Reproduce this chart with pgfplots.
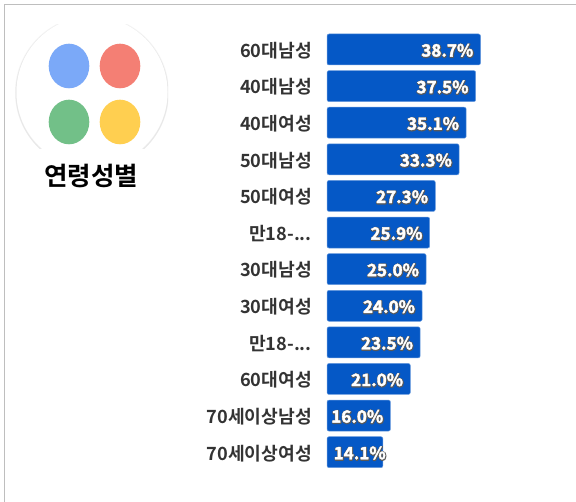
\documentclass[border=0pt]{standalone}
\usepackage{fontspec}
\usepackage{pgfplots}
\pgfplotsset{compat=1.18}
\setmainfont{Noto Sans CJK KR}[BoldFont={* Bold}]
\definecolor{barblue}{HTML}{0558C6}
\definecolor{framegray}{HTML}{BEBEBE}
\definecolor{labeltext}{HTML}{333333}
\definecolor{dotblue}{HTML}{7BA9F8}
\definecolor{dotred}{HTML}{F47F74}
\definecolor{dotgreen}{HTML}{72C088}
\definecolor{dotyellow}{HTML}{FFCF50}

\pgfplotstableread{
idx val
0 38.7
1 37.5
2 35.1
3 33.3
4 27.3
5 25.9
6 25.0
7 24.0
8 23.5
9 21.0
10 16.0
11 14.1
}\agedata

% outlined text: stroke width and grey level go straight to the pdf text state
\newcommand\strokedtext[3]{\special{pdf:code 2 Tr #1 w #2 G 1 j}#3\special{pdf:code 0 Tr}}
\newcommand\valtext{\pgfmathprintnumber[fixed,fixed zerofill,precision=1,assume math mode=true]{\pgfplotspointmeta}\%}

% value label layer: stroke width, stroke grey, text colour, x offset, y offset
\pgfplotsset{vallayer/.style n args={5}{
  draw=none,fill=none,
  nodes near coords={\strokedtext{#1}{#2}{\valtext}},
  point meta=x,
  every node near coord/.append style={anchor=east,inner sep=0pt,
    font=\fontsize{17}{19}\selectfont\bfseries,text=#3,xshift=#4,yshift=#5},
  coordinate style/.condition={x<15}{xshift=10pt},
}}

\begin{document}
\begin{tikzpicture}[x=1pt,y=1pt]
\useasboundingbox (0,0) rectangle (576,502);
% frame
\draw[framegray,line width=0.9pt] (4.5,0) -- (4.5,497.5) -- (576,497.5);
% logo
\begin{scope}
  \clip (10,353) rectangle (168,477);
  \draw[black!4,line width=2pt] (92,409.5) circle[radius=76];
  \draw[black!9,line width=1pt] (92,409) circle[radius=76];
  \fill[white] (92,410) circle[radius=75.5];
\end{scope}
\fill[dotblue] (69,436) ellipse[x radius=20.3,y radius=22.3];
\fill[dotred] (120,436) ellipse[x radius=20.3,y radius=22.3];
\fill[dotgreen] (69,380) ellipse[x radius=20.3,y radius=22.3];
\fill[dotyellow] (120,380) ellipse[x radius=20.3,y radius=22.3];
\node[font=\fontsize{25.5}{28}\selectfont\bfseries,text=black,inner sep=0pt] at (91,326) {연령성별};

\begin{axis}[
  at={(327pt,31.5pt)},anchor=south west,
  scale only axis,width=178.5pt,height=439.3pt,
  xmin=0,xmax=45,ymin=-0.5,ymax=11.5,y dir=reverse,
  axis line style={draw=none},
  xtick=\empty,
  ytick={0,1,2,3,4,5,6,7,8,9,10,11},
  yticklabels={60대남성,40대남성,40대여성,50대남성,50대여성,{만18-.{}.{}.},30대남성,30대여성,{만18-.{}.{}.},60대여성,70세이상남성,70세이상여성},
  major tick length=0pt,
  yticklabel style={font=\fontsize{18.2}{20}\selectfont\bfseries,text=labeltext,inner sep=0pt,xshift=-15pt,yshift=-1pt},
  xbar,bar width=31pt,bar shift=0pt,
  clip=false,
]
\addplot[fill=barblue,draw=barblue!60!white,line width=0.5pt,rounded corners=2pt] table[x=val,y=idx] {\agedata};
\addplot[vallayer={2}{0.35}{black!65}{-6.7pt}{-1.3pt}] table[x=val,y=idx] {\agedata};
\addplot[vallayer={0.35}{1}{white}{-7pt}{-0.8pt}] table[x=val,y=idx] {\agedata};
\end{axis}
\end{tikzpicture}
\end{document}
